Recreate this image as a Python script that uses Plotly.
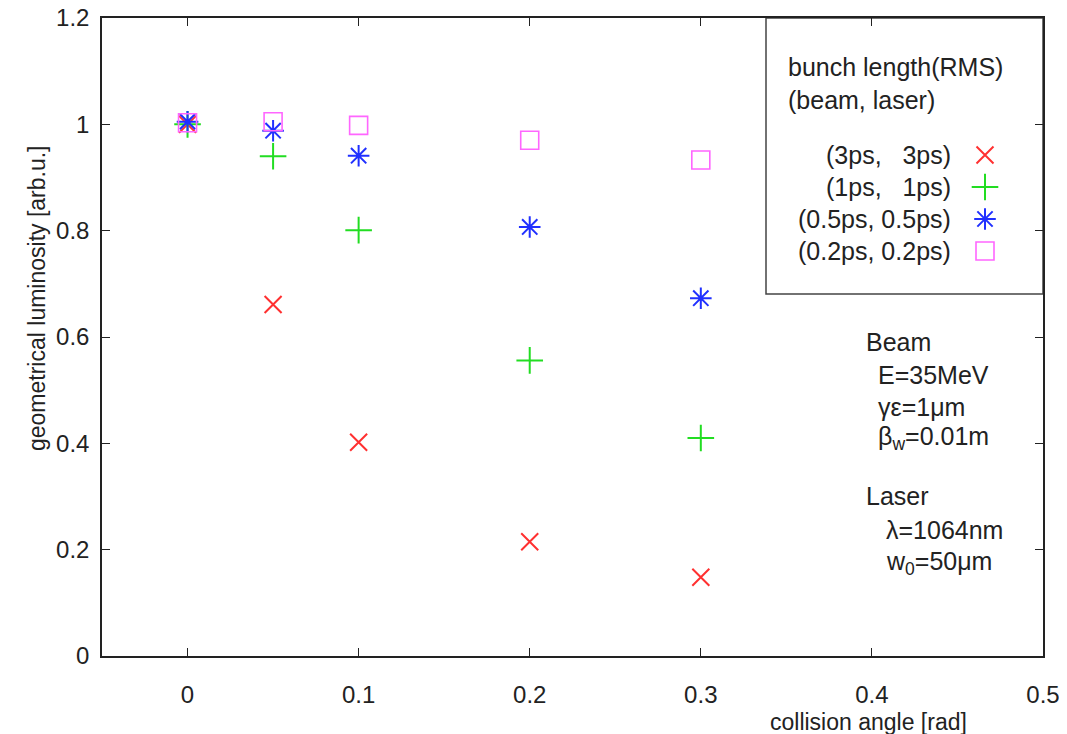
import plotly.graph_objects as go

angles = [0, 0.05, 0.1, 0.2, 0.3]
lum_3ps = [1.0, 0.661, 0.402, 0.215, 0.148]
lum_1ps = [1.0, 0.940, 0.801, 0.556, 0.410]
lum_05ps = [1.005, 0.988, 0.941, 0.807, 0.673]
lum_02ps = [1.003, 1.005, 0.998, 0.970, 0.933]
series_names = ["(3ps,   3ps)", "(1ps,   1ps)", "(0.5ps, 0.5ps)", "(0.2ps, 0.2ps)"]
x_ticks = [0, 0.1, 0.2, 0.3, 0.4, 0.5]
x_tick_text = ["0", "0.1", "0.2", "0.3", "0.4", "0.5"]
y_ticks = [0, 0.2, 0.4, 0.6, 0.8, 1.0, 1.2]
y_tick_text = ["0", "0.2", "0.4", "0.6", "0.8", "1", "1.2"]

FONT = "Liberation Sans, Arial, sans-serif"
FS = 25
OFF = 8  # browser body margin
L, R, T, B = 102, 1043, 18, 656  # plot area in page pixels
W, H = 1067 - OFF, 734 - OFF

styles = [
    dict(symbol="x-thin-open", color="#ff3030", size=17, width=2),
    dict(symbol="cross-thin-open", color="#22dd22", size=19, width=2),
    dict(symbol="asterisk-open", color="#2030ff", size=18, width=2),
    dict(symbol="square-open", color="#ff66ff", size=18, width=1.6),
]
data = [lum_3ps, lum_1ps, lum_05ps, lum_02ps]

fig = go.Figure()
for vals, st, name in zip(data, styles, series_names):
    fig.add_trace(go.Scatter(
        x=angles, y=vals, mode="markers", name=name, showlegend=False,
        marker=dict(symbol=st["symbol"], size=st["size"], color=st["color"],
                    line=dict(color=st["color"], width=st["width"])),
    ))

def px2paper(px, py):
    return (px - L) / (R - L), (B - py) / (B - T)

# manual legend box
x0, y0 = px2paper(766, 294)
x1, y1 = px2paper(1043, 18)
fig.add_shape(type="rect", xref="paper", yref="paper", x0=x0, y0=y0, x1=x1, y1=y1,
              line=dict(color="#444", width=1.5), fillcolor="white", layer="below")

# legend sample markers (via a paper-scaled overlay axis)
leg_y_px = [155, 187, 219, 251]
for st, py in zip(styles, leg_y_px):
    mx, my = px2paper(985, py)
    fig.add_trace(go.Scatter(
        x=[mx], y=[my], xaxis="x2", yaxis="y2", mode="markers", showlegend=False,
        marker=dict(symbol=st["symbol"], size=st["size"], color=st["color"],
                    line=dict(color=st["color"], width=st["width"])),
    ))

annots = []
def txt(text, px, py, xanchor="left", size=FS):
    ax, ay = px2paper(px, py)
    annots.append(dict(text=text, x=ax, y=ay, xref="paper", yref="paper",
                       xanchor=xanchor, yanchor="middle", showarrow=False,
                       font=dict(family=FONT, size=size, color="#222")))

txt("bunch length(RMS)", 786, 67)
txt("(beam, laser)", 786, 100)
for name, py in zip(series_names, leg_y_px):
    txt(name.replace(" ", "&nbsp;"), 953, py, xanchor="right")

txt("Beam", 864, 342)
txt("E=35MeV", 876, 375)
txt("γε=1μm", 876, 407)
txt("β<sub>w</sub>=0.01m", 876, 438)
txt("Laser", 864, 496)
txt("λ=1064nm", 884, 530)
txt("w<sub>0</sub>=50μm", 884, 563)

# axis titles
txt("collision angle [rad]", 868, 722, xanchor="center", size=23)
ax_, ay_ = px2paper(37, 298)
annots.append(dict(text="geometrical luminosity [arb.u.]", x=ax_, y=ay_,
                   xref="paper", yref="paper", xanchor="center", yanchor="middle", textangle=-90,
                   showarrow=False, font=dict(family=FONT, size=FS - 2, color="#222")))

axis_common = dict(showgrid=False, zeroline=False, showline=True, linecolor="#222", linewidth=1.5,
                   mirror="allticks", ticks="inside", ticklen=8, tickcolor="#222",
                   ticklabeloverflow="allow", automargin=False,
                   tickfont=dict(family=FONT, size=24, color="#222"))

fig.update_layout(
    width=W, height=H,
    margin=dict(l=L - OFF, r=W - (R - OFF), t=T - OFF, b=H - (B - OFF)),
    paper_bgcolor="white", plot_bgcolor="white",
    xaxis=dict(range=[-0.05, 0.50001], tickvals=x_ticks, ticktext=x_tick_text,
               ticklabelstandoff=16, **axis_common),
    yaxis=dict(range=[0, 1.20001], tickvals=y_ticks, ticktext=y_tick_text, ticklabelstandoff=6,
               **axis_common),
    xaxis2=dict(range=[0, 1], overlaying="x", visible=False, anchor="y2"),
    yaxis2=dict(range=[0, 1], overlaying="y", visible=False, anchor="x2"),
    annotations=annots,
)

fig.write_html("out.html")
